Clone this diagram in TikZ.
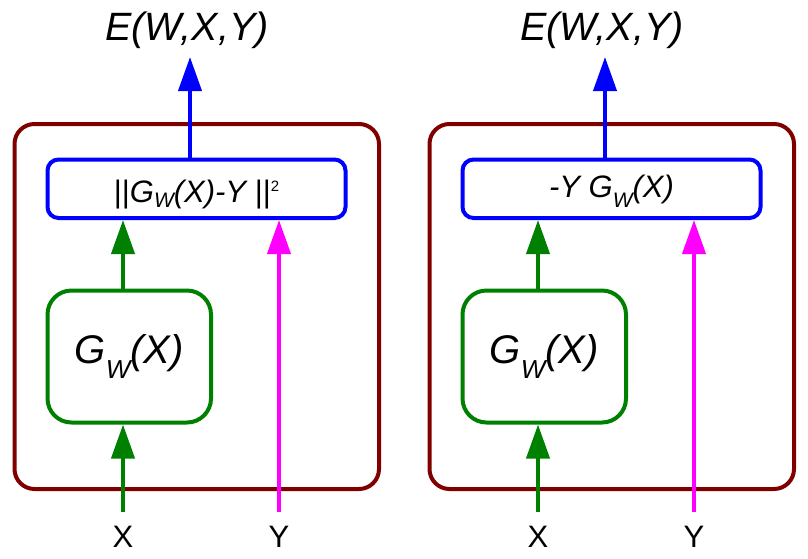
\documentclass[tikz,border=0pt]{standalone}
\usepackage{fontspec}
\setmainfont{Liberation Sans}
\usetikzlibrary{arrows.meta}
\definecolor{framered}{HTML}{800000}
\definecolor{gengreen}{HTML}{008000}
\definecolor{costblue}{HTML}{0000FF}
\definecolor{ymag}{HTML}{FF00FF}
\newcommand\fs[1]{\fontsize{#1}{#1}\selectfont}
\newcommand\lowsub[3]{\raisebox{-#1pt}{\fs{#2}#3}}
\begin{document}
\begin{tikzpicture}[x=1pt,y=-1pt,
  outerbox/.style={draw=framered,line width=4pt,rounded corners=20pt,minimum width=364.5pt,minimum height=365pt,inner sep=0pt},
  costbox/.style={draw=costblue,line width=4pt,rounded corners=11pt,minimum width=298pt,minimum height=58.5pt,inner sep=0pt,text depth=0pt,font=\fs{31}\itshape},
  genbox/.style={draw=gengreen,line width=4pt,rounded corners=24pt,minimum width=163.5pt,minimum height=132pt,inner sep=0pt,text height=13pt,text depth=0pt,font=\fs{40}\itshape},
  arr/.style={line width=4pt,-{Triangle[length=34pt,width=23pt]}},
  energy/.style={font=\fs{39.5}\itshape,anchor=base,inner sep=0pt},
  inlabel/.style={font=\fs{31},anchor=base,inner sep=0pt}]
\useasboundingbox (0,0) rectangle (808,558);
% left panel
\node[outerbox] (frameL) at (196.75,306.5) {};
\node[costbox,text height=26.5pt] (costL) at (196.5,188.75) {{\upshape||}G\lowsub{5}{21}{W}(X)-Y {\upshape||}\raisebox{11pt}{\fs{15}\upshape 2}};
\node[genbox] (genL) at (129.25,356.5) {G\lowsub{15}{26}{W}(X)};
\node[energy] (EL) at (187,40) {E(W,X,Y)};
\coordinate (ETipL) at (190,57);
\coordinate (XinL) at (123,512);
\coordinate (YinL) at (279,512);
\node[inlabel] (XL) at (123,547) {X};
\node[inlabel] (YL) at (279,547) {Y};
\draw[arr,costblue] (ETipL |- costL.north) -- (ETipL);
\draw[arr,gengreen] (XinL) -- (XinL |- genL.south);
\draw[arr,gengreen] (XinL |- genL.north) -- (XinL |- costL.south);
\draw[arr,ymag] (YinL) -- (YinL |- costL.south);
% right panel
\node[outerbox] (frameR) at (611.75,306.5) {};
\node[costbox,text height=16.5pt] (costR) at (611.5,188.75) {-Y G\lowsub{10}{21}{W}(X)};
\node[genbox] (genR) at (544.25,356.5) {G\lowsub{15}{26}{W}(X)};
\node[energy] (ER) at (602,40) {E(W,X,Y)};
\coordinate (ETipR) at (605,57);
\coordinate (XinR) at (538,512);
\coordinate (YinR) at (694,512);
\node[inlabel] (XR) at (538,547) {X};
\node[inlabel] (YR) at (694,547) {Y};
\draw[arr,costblue] (ETipR |- costR.north) -- (ETipR);
\draw[arr,gengreen] (XinR) -- (XinR |- genR.south);
\draw[arr,gengreen] (XinR |- genR.north) -- (XinR |- costR.south);
\draw[arr,ymag] (YinR) -- (YinR |- costR.south);
\end{tikzpicture}
\end{document}
